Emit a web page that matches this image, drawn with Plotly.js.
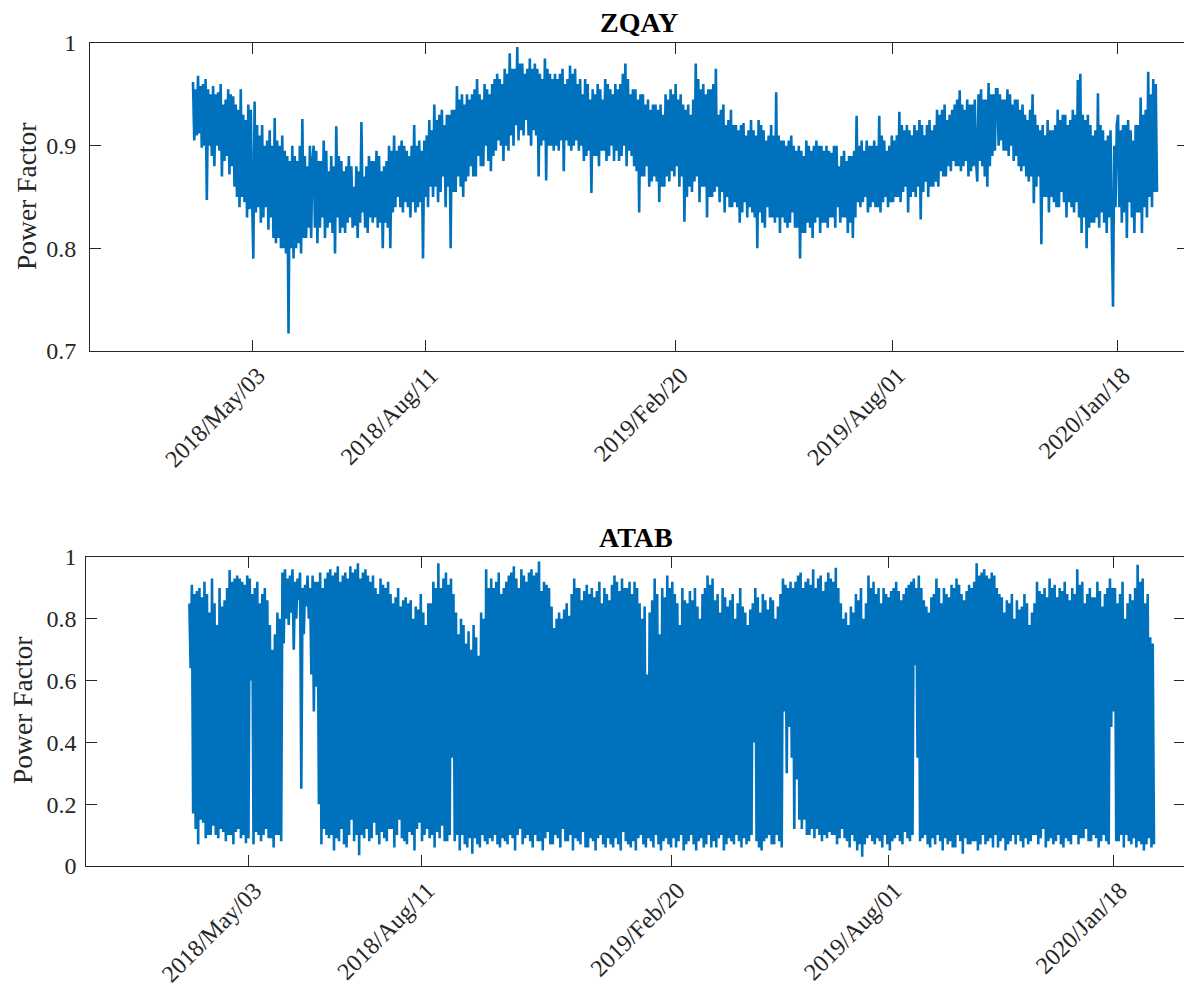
<!DOCTYPE html>
<html><head><meta charset="utf-8">
<script src="https://cdn.plot.ly/plotly-3.0.1.min.js"></script>
<style>html,body{margin:0;padding:0;overflow:hidden;background:#fff}</style>
</head><body><div id="chart" style="width:1192px;height:988px"></div>
<script>
// sample index range covered by the measurements
const sampleStart = 103, sampleEnd = 1067;
// sample index at which each date tick sits
const tickPositions = [162, 335, 585, 802, 1027];
const tickLabels = ['2018/May/03','2018/Aug/11','2019/Feb/20','2019/Aug/01','2020/Jan/18'];
const seriesTitles = ['ZQAY','ATAB'];
const yLabel = 'Power Factor';

const zqayPF = [
.962,.905,.955,.91,.968,.912,.958,.898,.96,.9,.965,.847,.955,.9,.95,.89,
.958,.88,.95,.9,.952,.895,.96,.87,.94,.885,.945,.89,.955,.872,.95,.88,
.948,.86,.94,.85,.935,.84,.955,.85,.93,.845,.925,.83,.94,.838,.935,.85,
.79,.943,.835,.92,.84,.91,.825,.92,.83,.9,.84,.905,.818,.915,.83,.9,
.81,.927,.805,.905,.81,.9,.8,.91,.8,.895,.795,.89,.717,.885,.8,.9,
.79,.89,.8,.885,.805,.9,.795,.926,.81,.89,.81,.88,.82,.9,.81,.885,
.9,.82,.895,.805,.885,.82,.885,.83,.905,.81,.895,.82,.875,.825,.89,.815,
.88,.795,.919,.83,.89,.815,.885,.82,.875,.815,.88,.825,.89,.83,.88,.82,
.86,.822,.88,.81,.875,.825,.923,.835,.87,.82,.88,.815,.89,.83,.885,.825,
.885,.83,.895,.82,.89,.825,.875,.8,.88,.825,.885,.82,.9,.8,.895,.835,
.91,.84,.895,.85,.9,.84,.905,.835,.9,.845,.895,.84,.89,.83,.9,.845,
.92,.835,.9,.84,.905,.845,.895,.79,.905,.85,.91,.84,.925,.86,.915,.85,
.94,.86,.925,.845,.93,.855,.935,.87,.92,.84,.93,.86,.93,.8,.935,.855,
.935,.855,.958,.87,.945,.86,.95,.85,.94,.865,.95,.87,.945,.88,.95,.87,
.955,.87,.965,.89,.95,.88,.945,.88,.96,.9,.955,.885,.95,.875,.96,.89,
.965,.895,.97,.905,.965,.9,.96,.885,.975,.9,.97,.895,.99,.91,.975,.9,
.975,.92,.996,.905,.98,.915,.98,.91,.97,.925,.975,.91,.985,.9,.975,.915,
.98,.91,.975,.87,.97,.9,.965,.905,.985,.866,.975,.9,.97,.9,.965,.895,
.97,.9,.965,.895,.97,.905,.975,.875,.96,.905,.965,.9,.978,.895,.97,.9,
.975,.905,.96,.895,.965,.9,.95,.885,.965,.89,.96,.895,.945,.854,.955,.89,
.95,.89,.96,.88,.955,.895,.945,.895,.965,.885,.96,.89,.955,.9,.95,.885,
.96,.895,.955,.885,.96,.89,.97,.9,.98,.88,.965,.895,.95,.89,.955,.88,
.955,.875,.945,.835,.95,.87,.95,.87,.94,.88,.945,.86,.935,.865,.94,.87,
.94,.865,.935,.845,.94,.86,.93,.86,.95,.87,.945,.865,.955,.875,.95,.87,
.96,.88,.945,.86,.95,.87,.94,.826,.935,.85,.94,.86,.93,.855,.945,.865,
.98,.87,.965,.845,.955,.86,.96,.86,.95,.83,.955,.85,.955,.85,.96,.855,
.975,.86,.93,.845,.935,.855,.94,.835,.92,.85,.925,.84,.935,.84,.92,.845,
.92,.84,.915,.825,.92,.835,.922,.845,.91,.83,.915,.84,.925,.835,.915,.83,
.91,.8,.925,.835,.92,.825,.915,.82,.905,.84,.91,.83,.92,.83,.91,.825,
.952,.83,.91,.815,.905,.83,.905,.825,.9,.82,.905,.825,.91,.835,.9,.82,
.895,.82,.9,.79,.895,.815,.89,.815,.905,.825,.9,.82,.895,.81,.9,.825,
.905,.83,.9,.815,.9,.825,.895,.825,.9,.82,.895,.83,.893,.83,.9,.82,
.9,.84,.88,.825,.89,.83,.895,.83,.885,.815,.89,.825,.89,.81,.895,.83,
.929,.845,.9,.84,.905,.845,.895,.85,.905,.835,.9,.84,.9,.845,.905,.84,
.9,.84,.929,.835,.91,.845,.905,.85,.895,.84,.9,.845,.91,.845,.905,.85,
.91,.85,.933,.845,.92,.855,.915,.86,.92,.835,.915,.85,.91,.855,.92,.85,
.915,.86,.925,.828,.92,.855,.91,.865,.92,.85,.925,.86,.915,.86,.92,.865,
.935,.86,.93,.875,.935,.87,.94,.87,.925,.88,.93,.875,.935,.885,.94,.88,
.945,.88,.954,.875,.94,.88,.935,.885,.945,.87,.94,.875,.94,.88,.945,.885,
.865,.95,.885,.955,.88,.945,.87,.945,.86,.961,.88,.95,.89,.95,.895,.955,
.955,.9,.95,.905,.945,.895,.945,.895,.955,.89,.95,.9,.94,.885,.945,.89,
.945,.88,.935,.875,.94,.88,.93,.87,.925,.865,.935,.87,.95,.844,.93,.86,
.92,.87,.915,.804,.92,.85,.91,.85,.925,.835,.915,.85,.915,.845,.92,.84,
.935,.84,.925,.855,.93,.845,.93,.83,.92,.845,.925,.84,.935,.835,.93,.845,
.964,.83,.97,.815,.93,.83,.925,.8,.93,.82,.92,.825,.91,.825,.915,.83,
.951,.82,.92,.835,.915,.825,.905,.815,.91,.83,.915,.82,.743,.9,.84,.92,
.93,.84,.915,.825,.92,.835,.92,.81,.925,.845,.915,.83,.905,.815,.92,.835,
.92,.835,.947,.815,.93,.84,.935,.83,.972,.85,.95,.84,.965,.855,.96,.855
];

const atabPF = [
.85,.64,.91,.17,.88,.12,.89,.07,.9,.15,.87,.14,.92,.09,.88,.1,
.82,.1,.93,.13,.85,.1,.78,.09,.9,.12,.84,.11,.86,.08,.9,.1,
.958,.1,.92,.07,.93,.11,.94,.12,.93,.09,.92,.1,.91,.074,.94,.09,
.93,.6,.88,.07,.9,.11,.92,.1,.85,.08,.88,.1,.9,.12,.86,.09,
.78,.09,.7,.06,.75,.1,.82,.1,.8,.08,.95,.72,.96,.8,.93,.78,
.94,.82,.96,.7,.92,.8,.93,.86,.95,.25,.9,.75,.91,.84,.94,.8,
.9,.62,.94,.5,.92,.58,.92,.2,.95,.07,.9,.12,.93,.1,.95,.09,
.96,.1,.94,.05,.95,.09,.97,.08,.92,.12,.94,.07,.95,.06,.93,.1,
.97,.15,.95,.08,.96,.1,.98,.035,.93,.1,.95,.09,.96,.12,.94,.08,
.92,.09,.94,.14,.9,.1,.88,.07,.93,.11,.91,.09,.9,.08,.92,.12,
.88,.12,.85,.06,.87,.1,.9,.15,.84,.09,.86,.08,.87,.07,.85,.11,
.86,.1,.8,.05,.84,.12,.83,.14,.88,.08,.82,.1,.78,.12,.85,.09,
.85,.1,.92,.06,.9,.11,.98,.09,.9,.13,.93,.08,.95,.08,.91,.1,
.93,.35,.88,.08,.82,.1,.75,.05,.8,.1,.78,.07,.72,.06,.76,.09,
.7,.04,.78,.09,.74,.07,.68,.06,.82,.1,.8,.08,.96,.07,.9,.09,
.93,.08,.9,.1,.92,.07,.95,.06,.88,.09,.9,.08,.92,.07,.94,.1,
.95,.09,.97,.05,.93,.1,.9,.12,.96,.07,.94,.09,.92,.1,.95,.08,
.96,.06,.94,.1,.95,.08,.985,.08,.89,.05,.92,.09,.91,.11,.9,.07,
.84,.07,.77,.1,.8,.09,.82,.06,.8,.12,.83,.08,.85,.08,.81,.1,
.88,.05,.93,.09,.9,.08,.9,.07,.86,.11,.89,.06,.91,.06,.88,.09,
.9,.08,.87,.05,.89,.09,.92,.1,.85,.07,.9,.06,.88,.09,.86,.07,
.91,.06,.94,.09,.92,.07,.89,.05,.93,.11,.9,.08,.9,.07,.92,.06,
.88,.08,.92,.05,.9,.09,.85,.1,.8,.07,.84,.06,.62,.09,.82,.08,
.86,.06,.93,.1,.88,.07,.75,.05,.9,.08,.87,.09,.94,.07,.9,.06,
.92,.09,.88,.06,.85,.08,.78,.1,.9,.05,.86,.07,.85,.08,.89,.1,
.86,.07,.9,.05,.84,.08,.8,.09,.88,.06,.9,.07,.94,.1,.91,.06,
.93,.08,.86,.06,.88,.09,.82,.1,.9,.05,.87,.07,.84,.09,.86,.08,
.88,.07,.8,.1,.85,.08,.9,.06,.84,.09,.82,.07,.78,.08,.83,.1,
.85,.4,.9,.08,.87,.06,.82,.05,.88,.08,.86,.09,.83,.1,.87,.07,
.86,.07,.8,.1,.84,.08,.88,.06,.93,.5,.91,.3,.9,.45,.92,.35,
.9,.12,.92,.28,.94,.15,.95,.12,.9,.15,.92,.1,.93,.1,.91,.12,
.96,.09,.9,.12,.93,.1,.94,.08,.89,.1,.92,.09,.95,.11,.93,.1,
.92,.1,.965,.07,.9,.09,.85,.12,.8,.09,.82,.08,.78,.06,.84,.1,
.82,.08,.88,.05,.86,.07,.9,.03,.8,.07,.85,.09,.94,.1,.9,.08,
.92,.07,.88,.09,.9,.08,.85,.06,.9,.1,.88,.07,.87,.05,.89,.08,
.9,.09,.92,.1,.89,.08,.86,.07,.88,.11,.9,.09,.91,.08,.92,.1,
.93,.65,.9,.35,.94,.08,.9,.09,.86,.1,.84,.07,.82,.06,.87,.09,
.88,.07,.93,.1,.9,.08,.85,.05,.9,.09,.88,.07,.87,.08,.91,.06,
.9,.06,.93,.1,.91,.08,.88,.04,.86,.09,.89,.07,.91,.07,.9,.08,
.92,.08,.98,.05,.94,.07,.95,.1,.96,.07,.94,.08,.93,.09,.95,.06,
.94,.1,.9,.06,.88,.08,.87,.09,.82,.05,.86,.07,.85,.08,.88,.1,
.8,.07,.86,.1,.83,.08,.84,.06,.88,.09,.85,.07,.78,.08,.82,.1,
.85,.1,.92,.07,.89,.09,.88,.12,.9,.06,.87,.08,.93,.09,.9,.07,
.91,.08,.87,.1,.9,.07,.89,.06,.92,.09,.88,.08,.86,.07,.9,.1,
.88,.1,.96,.07,.91,.09,.92,.09,.85,.12,.88,.08,.9,.08,.87,.1,
.87,.09,.92,.06,.89,.08,.84,.1,.88,.08,.9,.07,.93,.45,.9,.5,
.9,.08,.85,.08,.88,.1,.92,.06,.8,.1,.85,.08,.88,.07,.86,.09,
.9,.06,.975,.08,.92,.07,.93,.05,.85,.07,.88,.09,.74,.06,.72,.07
];

const zqayTicks = [0.7, 0.8, 0.9, 1];
const zqayTickText = ['0.7','0.8','0.9','1'];
const atabTicks = [0, 0.2, 0.4, 0.6, 0.8, 1];
const atabTickText = ['0','0.2','0.4','0.6','0.8','1'];

function sampleAxis(n){
  const a = [];
  for (let i = 0; i < n; i++) a.push(sampleStart + i * (sampleEnd - sampleStart) / (n - 1));
  return a;
}

const W = 1192, H = 988;
const FONT = '"Liberation Serif", "Times New Roman", Times, serif';
const AX = '#262626';
const BLUE = '#0072BD';

const traces = [
  {x: sampleAxis(zqayPF.length), y: zqayPF, type: 'scatter', mode: 'lines',
   line: {color: BLUE, width: 2.6, simplify: false}, xaxis: 'x', yaxis: 'y', hoverinfo: 'skip'},
  {x: sampleAxis(atabPF.length), y: atabPF, type: 'scatter', mode: 'lines',
   line: {color: BLUE, width: 2.6, simplify: false}, xaxis: 'x2', yaxis: 'y2', hoverinfo: 'skip'}
];

function xAx(domain, anchor){
  return {domain: domain, anchor: anchor, range: [0, 1098], tickmode: 'array',
    tickvals: tickPositions, ticktext: tickLabels, tickangle: -45, ticklabelshift: 6,
    ticks: 'inside', ticklen: 11, tickcolor: AX, tickwidth: 1,
    showline: true, linecolor: AX, linewidth: 1, mirror: 'ticks',
    showgrid: false, zeroline: false, fixedrange: true,
    tickfont: {family: FONT, size: 24, color: AX}};
}
function yAx(domain, anchor, range, tv, tt, standoff){
  return {domain: domain, anchor: anchor, range: range, tickmode: 'array',
    tickvals: tv, ticktext: tt,
    ticks: 'inside', ticklen: 11, tickcolor: AX, tickwidth: 1,
    showline: true, linecolor: AX, linewidth: 1, mirror: 'ticks',
    showgrid: false, zeroline: false, fixedrange: true, ticklabelstandoff: standoff,
    tickfont: {family: FONT, size: 24, color: AX}};
}

const layout = {
  width: W, height: H, margin: {l: 0, r: 0, t: 0, b: 0},
  paper_bgcolor: '#fff', plot_bgcolor: '#fff', showlegend: false,
  xaxis: xAx([90 / W, 1188 / W], 'y'),
  yaxis: yAx([1 - 351 / H, 1 - 43 / H], 'x', [0.7, 1], zqayTicks, zqayTickText, 8),
  xaxis2: xAx([86.3 / W, 1185 / W], 'y2'),
  yaxis2: yAx([1 - 866 / H, 1 - 557 / H], 'x2', [0, 1], atabTicks, atabTickText, 4),
  annotations: [
    {text: '<b>' + seriesTitles[0] + '</b>', xref: 'paper', yref: 'paper', x: 639 / W, y: 1 - 22 / H,
     xanchor: 'center', yanchor: 'middle', showarrow: false, font: {family: FONT, size: 28, color: '#000'}},
    {text: '<b>' + seriesTitles[1] + '</b>', xref: 'paper', yref: 'paper', x: 636 / W, y: 1 - 537 / H,
     xanchor: 'center', yanchor: 'middle', showarrow: false, font: {family: FONT, size: 28, color: '#000'}},
    {text: yLabel, xref: 'paper', yref: 'paper', x: 26 / W, y: 1 - 197 / H, textangle: -90,
     xanchor: 'center', yanchor: 'middle', showarrow: false, font: {family: FONT, size: 27.5, color: AX}},
    {text: yLabel, xref: 'paper', yref: 'paper', x: 22 / W, y: 1 - 711 / H, textangle: -90,
     xanchor: 'center', yanchor: 'middle', showarrow: false, font: {family: FONT, size: 27.5, color: AX}}
  ]
};

Plotly.newPlot('chart', traces, layout, {staticPlot: true, displayModeBar: false});
</script>
</body></html>
